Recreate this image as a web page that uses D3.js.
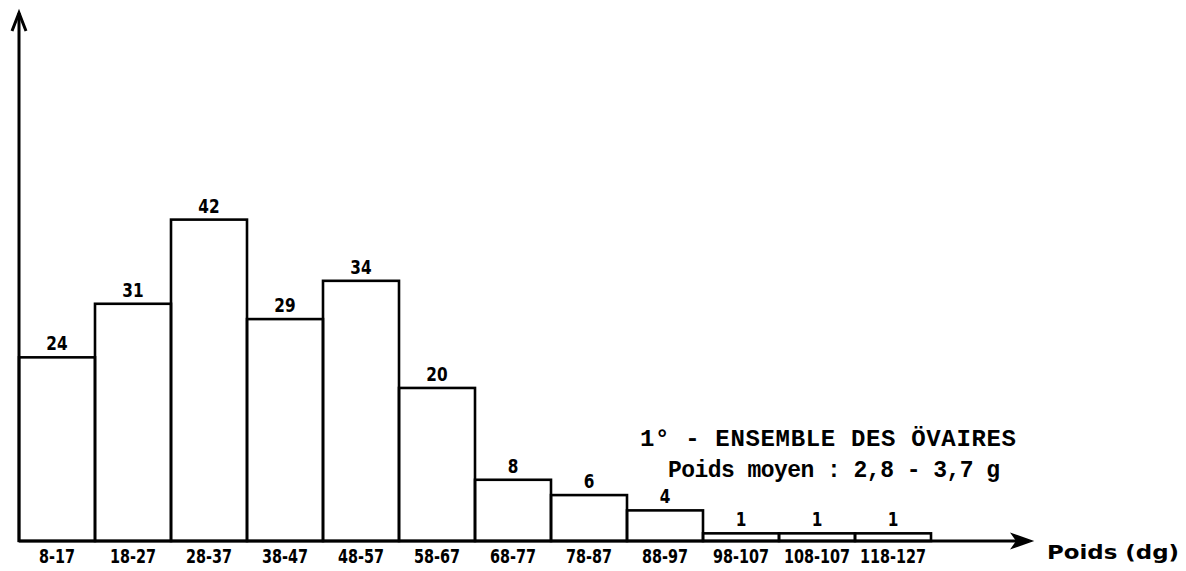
<!DOCTYPE html>
<meta charset="utf-8">
<script src="https://d3js.org/d3.v7.min.js"></script>
<style>
body { margin: 0; background: #fff; }
.lbl { font-family: "Liberation Sans Narrow", "DejaVu Sans Condensed", sans-serif; font-stretch: condensed; font-weight: bold; fill: #000; }
.axis--x path { display: none; }
.axis--x text { font-family: "Liberation Sans Narrow", "DejaVu Sans Condensed", sans-serif; font-stretch: condensed; font-weight: bold; font-size: 20px; fill: #000; }
.note { font-family: "Liberation Mono", "DejaVu Sans Mono", monospace; fill: #000; }
</style>
<body>
<script>

// poids des ovaires (dg) -> effectifs
var categories = ["8-17", "18-27", "28-37", "38-47", "48-57", "58-67", "68-77", "78-87", "88-97", "98-107", "108-107", "118-127"]
var counts = [24, 31, 42, 29, 34, 20, 8, 6, 4, 1, 1, 1]
var axisMax = [0, 69]

var width = 1186
var height = 571
var x0 = 19, x1 = 931, y0 = 541

var svg = d3.select("body").append("svg")
            .attr("width", width)
            .attr("height", height)

var data = categories.map(function(c, i) { return {label: c, n: counts[i]} })

var x = d3.scaleBand().domain(categories).range([x0, x1])
var y = d3.scaleLinear().domain(axisMax).range([y0, 13])

// bars
svg.selectAll(".bar")
    .data(data)
    .enter().append("rect")
      .attr("class", "bar")
      .attr("x", function(d) { return x(d.label) })
      .attr("y", function(d) { return y(d.n) })
      .attr("width", x.bandwidth())
      .attr("height", function(d) { return y0 - y(d.n) })
      .attr("fill", "none")
      .attr("stroke", "#000")
      .attr("stroke-width", 2.6)

// narrow, tall lettering like the typed original
svg.selectAll(".val")
    .data(data)
    .enter().append("text")
      .attr("class", "lbl")
      .attr("transform", function(d) { return "translate(" + (x(d.label) + x.bandwidth() / 2) + "," + (y(d.n) - 7) + ") scale(0.85,1)" })
      .attr("text-anchor", "middle")
      .attr("font-size", 20)
      .text(function(d) { return d.n })

// axes
svg.append("line").attr("x1", x0).attr("y1", y0 + 1).attr("x2", x0).attr("y2", y(axisMax[1]))
    .attr("stroke", "#000").attr("stroke-width", 3)
svg.append("path").attr("d", "M" + (x0 - 7) + "," + (y(axisMax[1]) + 18) + "L" + x0 + "," + y(axisMax[1]) + "L" + (x0 + 7) + "," + (y(axisMax[1]) + 18))
    .attr("fill", "none").attr("stroke", "#000").attr("stroke-width", 3)

var xEnd = 1032
svg.append("line").attr("x1", x0).attr("y1", y0).attr("x2", xEnd - 4).attr("y2", y0)
    .attr("stroke", "#000").attr("stroke-width", 3)
svg.append("path").attr("d", "M" + (xEnd - 20) + "," + (y0 - 7) + "L" + xEnd + "," + y0 + "L" + (xEnd - 20) + "," + (y0 + 7) + "L" + (xEnd - 15) + "," + y0 + "Z")
    .attr("fill", "#000").attr("stroke", "#000").attr("stroke-width", 1.5)

svg.append("g")
    .attr("class", "axis axis--x")
    .attr("transform", "translate(0," + y0 + ")")
    .call(d3.axisBottom(x).tickSize(0).tickPadding(8))
  .selectAll("text")
    .attr("transform", "scale(0.8,1)")

svg.append("text").attr("class", "lbl")
    .attr("x", 1047).attr("y", 559).attr("font-size", 20)
    .attr("textLength", 132).attr("lengthAdjust", "spacingAndGlyphs")
    .text("Poids (dg)")

// annotation
svg.append("text").attr("class", "note")
    .attr("x", 640).attr("y", 446).attr("font-size", 24).attr("font-weight", "bold")
    .attr("textLength", 376).attr("lengthAdjust", "spacing")
    .text("1° - ENSEMBLE DES ÖVAIRES")
svg.append("text").attr("class", "note")
    .attr("x", 668).attr("y", 477).attr("font-size", 23).attr("font-weight", "bold")
    .attr("textLength", 332).attr("lengthAdjust", "spacing")
    .text("Poids moyen : 2,8 - 3,7 g")

</script>
</body>
